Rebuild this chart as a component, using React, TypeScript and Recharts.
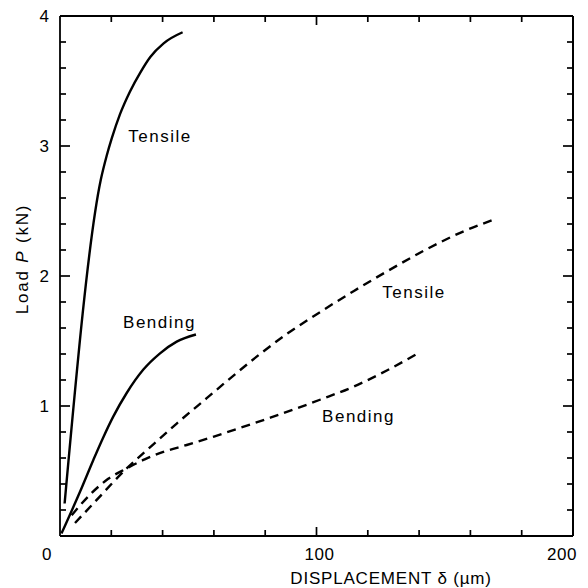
import React from "react";
import { LineChart, Line, XAxis, YAxis, ReferenceDot, ReferenceLine, CartesianGrid, Label } from "recharts";

// Solid line – tensile
const solidTensileX = [1.8, 15.9, 18.2, 20.2, 23.4, 27.3, 31.3, 35.2, 40.4, 47.8];
const solidTensileY = [0.25, 2.74, 2.925, 3.06, 3.245, 3.42, 3.565, 3.685, 3.79, 3.875];
// Solid line – bending
const solidBendingX = [0.6, 7.8, 13, 16.9, 20.8, 26, 32.5, 39, 45.5, 53];
const solidBendingY = [0.02, 0.34, 0.585, 0.76, 0.92, 1.1, 1.28, 1.405, 1.495, 1.55];
// Dashed line – tensile
const dashTensileX = [5.85, 13, 26, 36.4, 45.5, 57.2, 68, 78, 88.5, 101.6, 114.6, 127, 141.9, 157.5, 170];
const dashTensileY = [0.1, 0.25, 0.52, 0.705, 0.865, 1.06, 1.24, 1.4, 1.555, 1.725, 1.885, 2.03, 2.195, 2.345, 2.44];
// Dashed line – bending
const dashBendingX = [4.55, 12.3, 18.8, 26, 33, 40, 49.4, 60, 70, 82, 101.6, 114.6, 127.6, 140];
const dashBendingY = [0.16, 0.33, 0.44, 0.52, 0.59, 0.645, 0.7, 0.765, 0.83, 0.91, 1.05, 1.15, 1.275, 1.41];

const xTicks = [0, 20, 40, 60, 80, 100, 120, 140, 160, 180, 200];
const xLabels = [0, 100, 200];
const yTicks = [0, 0.2, 0.4, 0.6, 0.8, 1, 1.2, 1.4, 1.6, 1.8, 2, 2.2, 2.4, 2.6, 2.8, 3, 3.2, 3.4, 3.6, 3.8, 4];
const yLabels = [1, 2, 3, 4];
const X_MIN = 0, X_MAX = 200, Y_MIN = 0, Y_MAX = 4;

const annotations = [
  { text: "Tensile", x: 39, y: 3.08 },
  { text: "Bending", x: 38.8, y: 1.65 },
  { text: "Tensile", x: 138, y: 1.88 },
  { text: "Bending", x: 116.4, y: 0.92 },
];

const zip = (xs: number[], ys: number[]) => xs.map((x, i) => ({ x, y: ys[i] }));
const solidTensile = zip(solidTensileX, solidTensileY);
const solidBending = zip(solidBendingX, solidBendingY);
const dashTensile = zip(dashTensileX, dashTensileY);
const dashBending = zip(dashBendingX, dashBendingY);

const isMajorY = (v: number) => Math.abs(v - Math.round(v)) < 1e-6;
const FONT = "'Liberation Sans', Arial, Helvetica, sans-serif";
const labelDx: Record<number, number> = { 0: -13, 100: 3, 200: -11 };
const TICK_W = 1.7;

const BottomTick = (props: any) => {
  const { x, y, payload } = props;
  const v = payload.value as number;
  const major = xLabels.includes(v);
  return (
    <g>
      {v > X_MIN && v < X_MAX && (
        <line x1={x} y1={y} x2={x} y2={y - (major ? 9 : 6)} stroke="#000" strokeWidth={TICK_W} />
      )}
      {major && (
        <text x={x + (labelDx[v] ?? 0)} y={y + 24} textAnchor="middle" fontSize={17} fill="#000" fontFamily={FONT} letterSpacing={0.6}>
          {v}
        </text>
      )}
    </g>
  );
};

const TopTick = (props: any) => {
  const { x, y, payload } = props;
  const v = payload.value as number;
  if (v <= X_MIN || v >= X_MAX) return <g />;
  const major = xLabels.includes(v);
  return <line x1={x} y1={y} x2={x} y2={y + (major ? 9 : 6)} stroke="#000" strokeWidth={TICK_W} />;
};

const LeftTick = (props: any) => {
  const { x, y, payload } = props;
  const v = payload.value as number;
  const major = isMajorY(v);
  return (
    <g>
      {v > Y_MIN && v < Y_MAX && (
        <line x1={x} y1={y} x2={x + (major ? 10 : 6)} y2={y} stroke="#000" strokeWidth={TICK_W} />
      )}
      {yLabels.includes(v) && (
        <text x={x - 11} y={y + 6} textAnchor="end" fontSize={17} fill="#000" fontFamily={FONT}>
          {v}
        </text>
      )}
    </g>
  );
};

const RightTick = (props: any) => {
  const { x, y, payload } = props;
  const v = payload.value as number;
  if (v <= Y_MIN || v >= Y_MAX) return <g />;
  const major = isMajorY(v);
  return <line x1={x} y1={y} x2={x - (major ? 10 : 6)} y2={y} stroke="#000" strokeWidth={TICK_W} />;
};

const XTitle = (props: any) => {
  const vb = props.viewBox || { x: 60, y: 536, width: 513 };
  return (
    <text x={vb.x + 331} y={584} textAnchor="middle" fontSize={17} fill="#000" fontFamily={FONT} letterSpacing={0.8}>
      DISPLACEMENT δ (µm)
    </text>
  );
};

const YTitle = () => (
  <text x={0} y={0} transform="translate(28,259) rotate(-90)" textAnchor="middle" fontSize={17} fill="#000" fontFamily={FONT} letterSpacing={1.8}>
    Load <tspan fontStyle="italic">P</tspan> (kN)
  </text>
);

const axisLine = { stroke: "#000", strokeWidth: 1.8 };
const lineStyle = { stroke: "#000", strokeWidth: 2.4 };

export default function App() {
  return (
    <div style={{ position: "absolute", left: 0, top: 0, width: 588, height: 588, background: "#fff", fontFamily: FONT }}>
      <LineChart width={588} height={588} margin={{ top: -4, right: -5, bottom: 0, left: 0 }}>
        <CartesianGrid xAxisId="b" yAxisId="l" horizontalValues={[Y_MAX]} verticalValues={[X_MAX]} stroke="#000" strokeWidth={1.8} fill="none" />
        <XAxis
          xAxisId="b"
          type="number"
          dataKey="x"
          domain={[X_MIN, X_MAX]}
          ticks={xTicks}
          interval={0}
          height={52}
          tickSize={0}
          tickMargin={0}
          tickLine={false}
          tick={<BottomTick />}
          axisLine={axisLine}
          allowDataOverflow
        >
          <Label content={<XTitle />} />
        </XAxis>
        <XAxis
          xAxisId="t"
          orientation="top"
          type="number"
          dataKey="x"
          domain={[X_MIN, X_MAX]}
          ticks={xTicks}
          interval={0}
          height={20}
          tickSize={0}
          tickMargin={0}
          tickLine={false}
          tick={<TopTick />}
          axisLine={axisLine}
          allowDataOverflow
        />
        <YAxis
          yAxisId="l"
          type="number"
          domain={[Y_MIN, Y_MAX]}
          ticks={yTicks}
          interval={0}
          width={60}
          tickSize={0}
          tickMargin={0}
          tickLine={false}
          tick={<LeftTick />}
          axisLine={axisLine}
          allowDataOverflow
        >
          <Label content={<YTitle />} />
        </YAxis>
        <YAxis
          yAxisId="r"
          orientation="right"
          type="number"
          domain={[Y_MIN, Y_MAX]}
          ticks={yTicks}
          interval={0}
          width={20}
          tickSize={0}
          tickMargin={0}
          tickLine={false}
          tick={<RightTick />}
          axisLine={axisLine}
          allowDataOverflow
        />

        {/* frame: top and right edges (backup for the axis lines) */}
        <ReferenceLine xAxisId="b" yAxisId="l" y={Y_MAX} stroke="#000" strokeWidth={1.8} />
        <ReferenceLine xAxisId="b" yAxisId="l" x={X_MAX} stroke="#000" strokeWidth={1.8} />

        <Line xAxisId="b" yAxisId="l" data={solidTensile} dataKey="y" type="monotone" {...lineStyle} dot={false} isAnimationActive={false} />
        <Line xAxisId="b" yAxisId="l" data={solidBending} dataKey="y" type="monotone" {...lineStyle} dot={false} isAnimationActive={false} />
        <Line xAxisId="b" yAxisId="l" data={dashTensile} dataKey="y" type="monotone" {...lineStyle} strokeDasharray="9 6" dot={false} isAnimationActive={false} />
        <Line xAxisId="b" yAxisId="l" data={dashBending} dataKey="y" type="monotone" {...lineStyle} strokeDasharray="9 6" dot={false} isAnimationActive={false} />
        {annotations.map((a, i) => (
          <ReferenceDot
            key={i}
            xAxisId="b"
            yAxisId="l"
            x={a.x}
            y={a.y}
            r={0}
            fill="none"
            stroke="none"
            label={{ value: a.text, position: "center", fontSize: 17, fill: "#000", fontFamily: FONT, letterSpacing: 1.5 }}
          />
        ))}
      </LineChart>
    </div>
  );
}
